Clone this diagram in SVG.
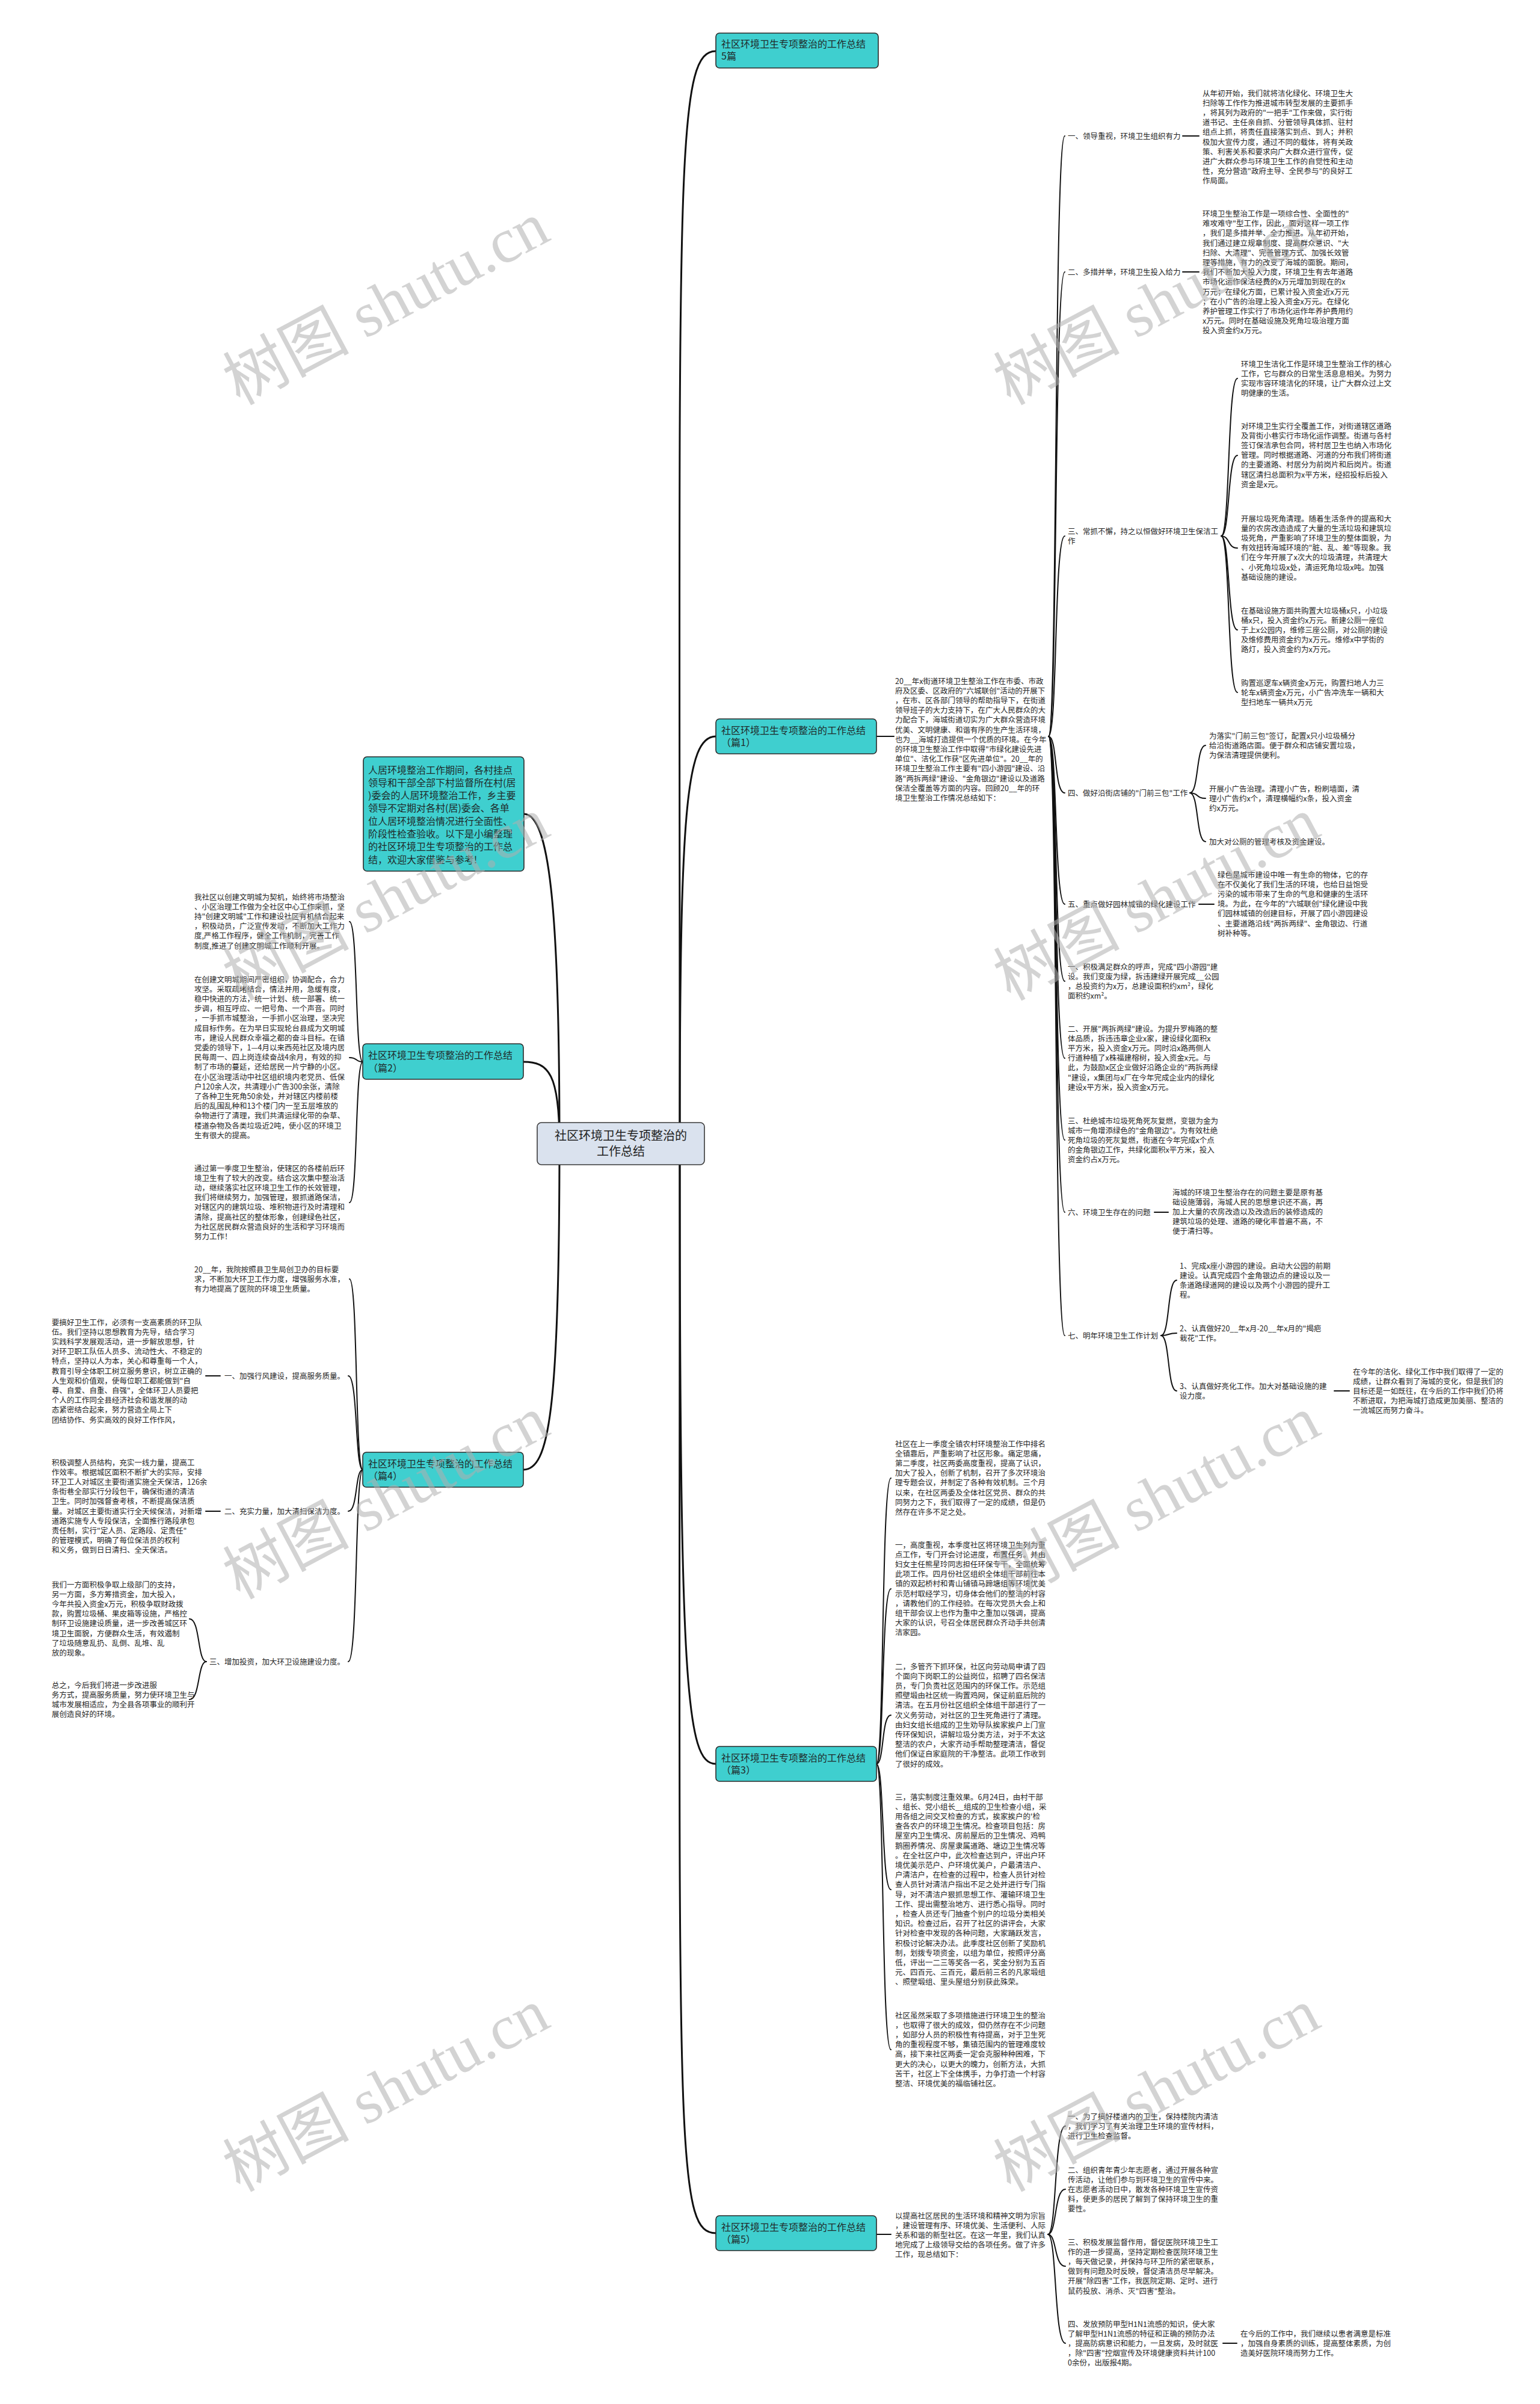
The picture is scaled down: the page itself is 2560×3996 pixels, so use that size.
<svg xmlns="http://www.w3.org/2000/svg" width="2560" height="3996" viewBox="0 0 2560 3996">
<style>
.t{font-family:"Noto Sans CJK SC","Noto Sans",sans-serif;font-size:12.5px;fill:#262626}
.n{font-family:"Noto Sans CJK SC","Noto Sans",sans-serif;font-size:16px;fill:#1f2a2a}
.cn{font-family:"Noto Sans CJK SC","Noto Sans",sans-serif;font-size:20px;fill:#222}
.box{fill:#3fcfcf;stroke:#2b2b2b;stroke-width:1.6}
.cbox{fill:#dae2ee;stroke:#3a3a3a;stroke-width:1.6}
.m{fill:none;stroke:#111;stroke-width:3;stroke-linecap:round}
.s{fill:none;stroke:#111;stroke-width:2;stroke-linecap:round}
.wm{font-family:"Liberation Serif","Noto Sans CJK SC",serif;font-size:105px;fill:#b0b0b0;opacity:0.55}
</style>
<rect x="0" y="0" width="2560" height="3996" fill="#ffffff"/>

<g id="connectors">
<path class="m" d="M1130,1900 C1130,300 1120,85 1190,85"/>
<path class="m" d="M1130,1900 C1130,1350 1140,1224 1190,1224"/>
<path class="m" d="M1130,1900 C1130,2800 1140,2932 1190,2932"/>
<path class="m" d="M1130,1900 C1130,3550 1120,3712 1190,3712"/>
<path class="m" d="M930,1900 C930,1500 912,1353 871,1353"/>
<path class="m" d="M930,1900 C930,1785 912,1765 870,1765"/>
<path class="m" d="M930,1900 C930,2350 912,2443 870,2443"/>
<!-- pian1 -->
<path class="s" d="M1457,1224 L1486,1224"/>
<path class="s" d="M1743,1224 C1758,1224 1752,226 1770,226"/>
<path class="s" d="M1743,1224 C1758,1224 1752,452 1770,452"/>
<path class="s" d="M1743,1224 C1758,1224 1752,891 1770,891"/>
<path class="s" d="M1743,1224 C1758,1224 1752,1318 1770,1318"/>
<path class="s" d="M1743,1224 C1758,1224 1752,1503 1770,1503"/>
<path class="s" d="M1743,1224 C1758,1224 1752,1631 1770,1631"/>
<path class="s" d="M1743,1224 C1758,1224 1752,1759 1770,1759"/>
<path class="s" d="M1743,1224 C1758,1224 1752,1895 1770,1895"/>
<path class="s" d="M1743,1224 C1758,1224 1752,2015 1770,2015"/>
<path class="s" d="M1743,1224 C1758,1224 1752,2220 1770,2220"/>
<path class="s" d="M1966,226 L1993,226"/>
<path class="s" d="M1966,452 L1993,452"/>
<path class="s" d="M2030,891 C2045,891 2040,629 2057,629"/>
<path class="s" d="M2030,891 C2045,891 2040,757 2057,757"/>
<path class="s" d="M2030,891 C2045,891 2040,911 2057,911"/>
<path class="s" d="M2030,891 C2045,891 2040,1047 2057,1047"/>
<path class="s" d="M2030,891 C2045,891 2040,1151 2057,1151"/>
<path class="s" d="M1978,1318 C1993,1318 1988,1239 2004,1239"/>
<path class="s" d="M1978,1318 C1993,1318 1988,1327 2004,1327"/>
<path class="s" d="M1978,1318 C1993,1318 1988,1399 2004,1399"/>
<path class="s" d="M1993,1503 L2018,1503"/>
<path class="s" d="M1919,2015 L1942,2015"/>
<path class="s" d="M1930,2220 C1945,2220 1940,2128 1956,2128"/>
<path class="s" d="M1930,2220 C1945,2220 1940,2216 1956,2216"/>
<path class="s" d="M1930,2220 C1945,2220 1940,2312 1956,2312"/>
<path class="s" d="M2218,2312 L2243,2312"/>
<!-- pian2 -->
<path class="s" d="M603,1765 C590,1765 595,1532 581,1532"/>
<path class="s" d="M603,1765 C590,1765 595,1758 581,1758"/>
<path class="s" d="M603,1765 C590,1765 595,1999 581,1999"/>
<!-- pian4 -->
<path class="s" d="M603,2443 C590,2443 595,2126 581,2126"/>
<path class="s" d="M603,2443 C590,2443 595,2287 579,2287"/>
<path class="s" d="M603,2443 C590,2443 595,2512 579,2512"/>
<path class="s" d="M603,2443 C590,2443 595,2762 579,2762"/>
<path class="s" d="M366,2287 L342,2287"/>
<path class="s" d="M366,2512 L342,2512"/>
<path class="s" d="M343,2762 C328,2762 333,2691 315,2691"/>
<path class="s" d="M343,2762 C328,2762 333,2825 315,2825"/>
<!-- pian3 -->
<path class="s" d="M1457,2932 C1470,2932 1465,2457 1481,2457"/>
<path class="s" d="M1457,2932 C1470,2932 1465,2641 1481,2641"/>
<path class="s" d="M1457,2932 C1470,2932 1465,2851 1481,2851"/>
<path class="s" d="M1457,2932 C1470,2932 1465,3141 1481,3141"/>
<path class="s" d="M1457,2932 C1470,2932 1465,3407 1481,3407"/>
<!-- pian5 -->
<path class="s" d="M1457,3714 L1481,3714"/>
<path class="s" d="M1742,3714 C1757,3714 1752,3534 1771,3534"/>
<path class="s" d="M1742,3714 C1757,3714 1752,3639 1771,3639"/>
<path class="s" d="M1742,3714 C1757,3714 1752,3767 1771,3767"/>
<path class="s" d="M1742,3714 C1757,3714 1752,3895 1771,3895"/>
<path class="s" d="M2033,3895 L2056,3895"/>
</g>

<g id="center">
<rect class="cbox" x="893" y="1866" width="278" height="70" rx="7"/>
<text class="cn" x="1032" y="1895" text-anchor="middle">社区环境卫生专项整治的</text>
<text class="cn" x="1032" y="1921" text-anchor="middle">工作总结</text>
</g>

<g id="title5">
<rect class="box" x="1190" y="55" width="270" height="58" rx="6"/>
<text class="n" x="1199" y="78.5">社区环境卫生专项整治的工作总结</text>
<text class="n" x="1199" y="98.5">5篇</text>
</g>

<g id="intro">
<rect class="box" x="604" y="1258" width="267" height="190" rx="6"/>
<text class="n" x="612" y="1285.5"><tspan x="612">人居环境整治工作期间，各村挂点</tspan><tspan x="612" dy="21.3">领导和干部全部下村监督所在村(居</tspan><tspan x="612" dy="21.3">)委会的人居环境整治工作，乡主要</tspan><tspan x="612" dy="21.3">领导不定期对各村(居)委会、各单</tspan><tspan x="612" dy="21.3">位人居环境整治情况进行全面性、</tspan><tspan x="612" dy="21.3">阶段性检查验收。以下是小编整理</tspan><tspan x="612" dy="21.3">的社区环境卫生专项整治的工作总</tspan><tspan x="612" dy="21.3">结，欢迎大家借鉴与参考!</tspan></text>
</g>

<g id="pian1">
<rect class="box" x="1190" y="1195" width="267" height="58" rx="6"/>
<text class="n" x="1199" y="1219.5">社区环境卫生专项整治的工作总结</text>
<text class="n" x="1199" y="1239.5">（篇1）</text>
</g>
<g id="p1-intro">
<text class="t" x="1488" y="1136.5"><tspan x="1488">20__年x街道环境卫生整治工作在市委、市政</tspan><tspan x="1488" dy="16.2">府及区委、区政府的"六城联创"活动的开展下</tspan><tspan x="1488" dy="16.2">，在市、区各部门领导的帮助指导下，在街道</tspan><tspan x="1488" dy="16.2">领导班子的大力支持下，在广大人民群众的大</tspan><tspan x="1488" dy="16.2">力配合下，海城街道切实为广大群众营造环境</tspan><tspan x="1488" dy="16.2">优美、文明健康、和谐有序的生产生活环境，</tspan><tspan x="1488" dy="16.2">也为__海城打造提供一个优质的环境。在今年</tspan><tspan x="1488" dy="16.2">的环境卫生整治工作中取得"市绿化建设先进</tspan><tspan x="1488" dy="16.2">单位"、洁化工作获"区先进单位"。20__年的</tspan><tspan x="1488" dy="16.2">环境卫生整治工作主要有"四小游园"建设、沿</tspan><tspan x="1488" dy="16.2">路"两拆两绿"建设、"金角银边"建设以及道路</tspan><tspan x="1488" dy="16.2">保洁全覆盖等方面的内容。回顾20__年的环</tspan><tspan x="1488" dy="16.2">境卫生整治工作情况总结如下：</tspan></text>
</g>
<g id="p1-1">
<text class="t" x="1775" y="230.5">一、领导重视，环境卫生组织有力</text>
<text class="t" x="1999" y="159.5"><tspan x="1999">从年初开始，我们就将洁化绿化、环境卫生大</tspan><tspan x="1999" dy="16.2">扫除等工作作为推进城市转型发展的主要抓手</tspan><tspan x="1999" dy="16.2">，将其列为政府的"一把手"工作来做，实行街</tspan><tspan x="1999" dy="16.2">道书记、主任亲自抓、分管领导具体抓、驻村</tspan><tspan x="1999" dy="16.2">组点上抓，将责任直接落实到点、到人；并积</tspan><tspan x="1999" dy="16.2">极加大宣传力度，通过不同的载体，将有关政</tspan><tspan x="1999" dy="16.2">策、利害关系和要求向广大群众进行宣传，促</tspan><tspan x="1999" dy="16.2">进广大群众参与环境卫生工作的自觉性和主动</tspan><tspan x="1999" dy="16.2">性，充分营造"政府主导、全民参与"的良好工</tspan><tspan x="1999" dy="16.2">作局面。</tspan></text>
</g>
<g id="p1-2">
<text class="t" x="1775" y="456.5">二、多措并举，环境卫生投入给力</text>
<text class="t" x="1999" y="360"><tspan x="1999">环境卫生整治工作是一项综合性、全面性的"</tspan><tspan x="1999" dy="16.2">难攻难守"型工作，因此，面对这样一项工作</tspan><tspan x="1999" dy="16.2">，我们是多措并举、全力推进。从年初开始，</tspan><tspan x="1999" dy="16.2">我们通过建立规章制度、提高群众意识、"大</tspan><tspan x="1999" dy="16.2">扫除、大清理"、完善管理方式、加强长效管</tspan><tspan x="1999" dy="16.2">理等措施，有力的改变了海城的面貌。期间，</tspan><tspan x="1999" dy="16.2">我们不断加大投入力度，环境卫生有去年道路</tspan><tspan x="1999" dy="16.2">市场化运作保洁经费的x万元增加到现在的x</tspan><tspan x="1999" dy="16.2">万元；在绿化方面，已累计投入资金近x万元</tspan><tspan x="1999" dy="16.2">；在小广告的治理上投入资金x万元。在绿化</tspan><tspan x="1999" dy="16.2">养护管理工作实行了市场化运作年养护费用约</tspan><tspan x="1999" dy="16.2">x万元。同时在基础设施及死角垃圾治理方面</tspan><tspan x="1999" dy="16.2">投入资金约x万元。</tspan></text>
</g>
<g id="p1-3">
<text class="t" x="1775" y="887.5"><tspan x="1775">三、常抓不懈，持之以恒做好环境卫生保洁工</tspan><tspan x="1775" dy="16.2">作</tspan></text>
<text class="t" x="2063" y="609.5"><tspan x="2063">环境卫生洁化工作是环境卫生整治工作的核心</tspan><tspan x="2063" dy="16.2">工作，它与群众的日常生活息息相关。为努力</tspan><tspan x="2063" dy="16.2">实现市容环境洁化的环境，让广大群众过上文</tspan><tspan x="2063" dy="16.2">明健康的生活。</tspan></text>
<text class="t" x="2063" y="712.5"><tspan x="2063">对环境卫生实行全覆盖工作，对街道辖区道路</tspan><tspan x="2063" dy="16.2">及背街小巷实行市场化运作调整。街道与各村</tspan><tspan x="2063" dy="16.2">签订保洁承包合同，将村居卫生也纳入市场化</tspan><tspan x="2063" dy="16.2">管理。同时根据道路、河道的分布我们将街道</tspan><tspan x="2063" dy="16.2">的主要道路、村居分为前岗片和后岗片。街道</tspan><tspan x="2063" dy="16.2">辖区清扫总面积为x平方米，经招投标后投入</tspan><tspan x="2063" dy="16.2">资金是x元。</tspan></text>
<text class="t" x="2063" y="866.5"><tspan x="2063">开展垃圾死角清理。随着生活条件的提高和大</tspan><tspan x="2063" dy="16.2">量的农房改造造成了大量的生活垃圾和建筑垃</tspan><tspan x="2063" dy="16.2">圾死角，严重影响了环境卫生的整体面貌，为</tspan><tspan x="2063" dy="16.2">有效扭转海城环境的"脏、乱、差"等现象。我</tspan><tspan x="2063" dy="16.2">们在今年开展了x次大的垃圾清理，共清理大</tspan><tspan x="2063" dy="16.2">、小死角垃圾x处，清运死角垃圾x吨。加强</tspan><tspan x="2063" dy="16.2">基础设施的建设。</tspan></text>
<text class="t" x="2063" y="1019.5"><tspan x="2063">在基础设施方面共购置大垃圾桶x只，小垃圾</tspan><tspan x="2063" dy="16.2">桶x只，投入资金约x万元。新建公厕一座位</tspan><tspan x="2063" dy="16.2">于上x公园内，维修三座公厕，对公厕的建设</tspan><tspan x="2063" dy="16.2">及维修费用资金约为x万元。维修x中学街的</tspan><tspan x="2063" dy="16.2">路灯，投入资金约为x万元。</tspan></text>
<text class="t" x="2063" y="1139.5"><tspan x="2063">购置巡逻车x辆资金x万元，购置扫地人力三</tspan><tspan x="2063" dy="16.2">轮车x辆资金x万元，小广告冲洗车一辆和大</tspan><tspan x="2063" dy="16.2">型扫地车一辆共x万元</tspan></text>
</g>
<g id="p1-4">
<text class="t" x="1775" y="1322.5">四、做好沿街店铺的"门前三包"工作</text>
<text class="t" x="2010" y="1227.5"><tspan x="2010">为落实"门前三包"签订，配置x只小垃圾桶分</tspan><tspan x="2010" dy="16.2">给沿街道路店面。便于群众和店铺安置垃圾，</tspan><tspan x="2010" dy="16.2">为保洁清理提供便利。</tspan></text>
<text class="t" x="2010" y="1315.5"><tspan x="2010">开展小广告治理。清理小广告，粉刷墙面，清</tspan><tspan x="2010" dy="16.2">理小广告约x个，清理横幅约x条，投入资金</tspan><tspan x="2010" dy="16.2">约x万元。</tspan></text>
<text class="t" x="2010" y="1403.5">加大对公厕的管理考核及资金建设。</text>
</g>
<g id="p1-5">
<text class="t" x="1775" y="1507.5">五、重点做好园林城镇的绿化建设工作</text>
<text class="t" x="2024" y="1458.5"><tspan x="2024">绿色是城市建设中唯一有生命的物体，它的存</tspan><tspan x="2024" dy="16.2">在不仅美化了我们生活的环境，也给日益饱受</tspan><tspan x="2024" dy="16.2">污染的城市带来了生命的气息和健康的生活环</tspan><tspan x="2024" dy="16.2">境。为此，在今年的"六城联创"绿化建设中我</tspan><tspan x="2024" dy="16.2">们园林城镇的创建目标，开展了四小游园建设</tspan><tspan x="2024" dy="16.2">、主要道路沿线"两拆两绿"、金角银边、行道</tspan><tspan x="2024" dy="16.2">树补种等。</tspan></text>
</g>
<g id="p1-5a">
<text class="t" x="1775" y="1611.5"><tspan x="1775">一、积极满足群众的呼声，完成"四小游园"建</tspan><tspan x="1775" dy="16.2">设。我们变废为绿，拆违建绿开展完成__公园</tspan><tspan x="1775" dy="16.2">，总投资约为x万，总建设面积约xm²，绿化</tspan><tspan x="1775" dy="16.2">面积约xm²。</tspan></text>
</g>
<g id="p1-5b">
<text class="t" x="1775" y="1714.5"><tspan x="1775">二、开展"两拆两绿"建设。为提升罗梅路的整</tspan><tspan x="1775" dy="16.2">体品质，拆违违章企业x家，建设绿化面积x</tspan><tspan x="1775" dy="16.2">平方米，投入资金x万元。同时沿x路两侧人</tspan><tspan x="1775" dy="16.2">行道种植了x株福建榕树，投入资金x元。与</tspan><tspan x="1775" dy="16.2">此，为鼓励x区企业做好沿路企业的"两拆两绿</tspan><tspan x="1775" dy="16.2">"建设，x集团与x厂在今年完成企业内的绿化</tspan><tspan x="1775" dy="16.2">建设x平方米，投入资金x万元。</tspan></text>
</g>
<g id="p1-5c">
<text class="t" x="1775" y="1867.5"><tspan x="1775">三、杜绝城市垃圾死角死灰复燃，变银为金为</tspan><tspan x="1775" dy="16.2">城市一角增添绿色的"金角银边"。为有效杜绝</tspan><tspan x="1775" dy="16.2">死角垃圾的死灰复燃，街道在今年完成x个点</tspan><tspan x="1775" dy="16.2">的金角银边工作，共绿化面积x平方米，投入</tspan><tspan x="1775" dy="16.2">资金约占x万元。</tspan></text>
</g>
<g id="p1-6">
<text class="t" x="1775" y="2019.5">六、环境卫生存在的问题</text>
<text class="t" x="1949" y="1986.5"><tspan x="1949">海城的环境卫生整治存在的问题主要是原有基</tspan><tspan x="1949" dy="16.2">础设施薄弱，海城人民的思想意识还不高，再</tspan><tspan x="1949" dy="16.2">加上大量的农房改造以及改造后的装修造成的</tspan><tspan x="1949" dy="16.2">建筑垃圾的处理、道路的硬化率普遍不高，不</tspan><tspan x="1949" dy="16.2">便于清扫等。</tspan></text>
</g>
<g id="p1-7">
<text class="t" x="1775" y="2224.5">七、明年环境卫生工作计划</text>
<text class="t" x="1961" y="2108.5"><tspan x="1961">1、完成x座小游园的建设。启动大公园的前期</tspan><tspan x="1961" dy="16.2">建设。认真完成四个金角银边点的建设以及一</tspan><tspan x="1961" dy="16.2">条道路绿道网的建设以及两个小游园的提升工</tspan><tspan x="1961" dy="16.2">程。</tspan></text>
<text class="t" x="1961" y="2212.5"><tspan x="1961">2、认真做好20__年x月-20__年x月的"揭疤</tspan><tspan x="1961" dy="16.2">栽花"工作。</tspan></text>
<text class="t" x="1961" y="2308.5"><tspan x="1961">3、认真做好亮化工作。加大对基础设施的建</tspan><tspan x="1961" dy="16.2">设力度。</tspan></text>
<text class="t" x="2249" y="2284.5"><tspan x="2249">在今年的洁化、绿化工作中我们取得了一定的</tspan><tspan x="2249" dy="16.2">成绩，让群众看到了海城的变化，但是我们的</tspan><tspan x="2249" dy="16.2">目标还是一如既往，在今后的工作中我们仍将</tspan><tspan x="2249" dy="16.2">不断进取，为把海城打造成更加美丽、整洁的</tspan><tspan x="2249" dy="16.2">一流城区而努力奋斗。</tspan></text>
</g>

<g id="pian2">
<rect class="box" x="603" y="1735" width="267" height="59" rx="6"/>
<text class="n" x="612" y="1759.5">社区环境卫生专项整治的工作总结</text>
<text class="n" x="612" y="1780.5">（篇2）</text>
</g>
<g id="p2-1">
<text class="t" x="323" y="1495.5"><tspan x="323">我社区以创建文明城为契机，始终将市场整治</tspan><tspan x="323" dy="16.2">、小区治理工作做为全社区中心工作来抓，坚</tspan><tspan x="323" dy="16.2">持"创建文明城"工作和建设社区有机结合起来</tspan><tspan x="323" dy="16.2">，积极动员，广泛宣传发动，不断加大工作力</tspan><tspan x="323" dy="16.2">度,严格工作程序，健全工作机制，完善工作</tspan><tspan x="323" dy="16.2">制度,推进了创建文明城工作顺利开展。</tspan></text>
</g>
<g id="p2-2">
<text class="t" x="323" y="1632.5"><tspan x="323">在创建文明城期间严密组织，协调配合，合力</tspan><tspan x="323" dy="16.2">攻坚。采取疏堵结合，情法并用，急缓有度，</tspan><tspan x="323" dy="16.2">稳中快进的方法，统一计划、统一部署、统一</tspan><tspan x="323" dy="16.2">步调，相互呼应、一把号角、一个声音。同时</tspan><tspan x="323" dy="16.2">，一手抓市城整治，一手抓小区治理，坚决完</tspan><tspan x="323" dy="16.2">成目标作务。在为早日实现轮台县成为文明城</tspan><tspan x="323" dy="16.2">市，建设人民群众幸福之都的奋斗目标。在镇</tspan><tspan x="323" dy="16.2">党委的领导下，1—4月以来西苑社区及境内居</tspan><tspan x="323" dy="16.2">民每周一、四上岗连续奋战4余月，有效的抑</tspan><tspan x="323" dy="16.2">制了市场的蔓延，还给居民一片宁静的小区。</tspan><tspan x="323" dy="16.2">在小区治理活动中社区组织境内老党员、低保</tspan><tspan x="323" dy="16.2">户120余人次，共清理小广告300余张，清除</tspan><tspan x="323" dy="16.2">了各种卫生死角50余处，并对辖区内楼前楼</tspan><tspan x="323" dy="16.2">后的乱围乱种和13个楼门内一至五层堆放的</tspan><tspan x="323" dy="16.2">杂物进行了清理，我们共清运绿化带的杂草、</tspan><tspan x="323" dy="16.2">楼道杂物及各类垃圾近2吨，使小区的环境卫</tspan><tspan x="323" dy="16.2">生有很大的提高。</tspan></text>
</g>
<g id="p2-3">
<text class="t" x="323" y="1946.5"><tspan x="323">通过第一季度卫生整治，使辖区的各楼前后环</tspan><tspan x="323" dy="16.2">境卫生有了较大的改变。结合这次集中整治活</tspan><tspan x="323" dy="16.2">动，继续落实社区环境卫生工作的长效管理，</tspan><tspan x="323" dy="16.2">我们将继续努力，加强管理，狠抓道路保洁，</tspan><tspan x="323" dy="16.2">对辖区内的建筑垃圾、堆积物进行及时清理和</tspan><tspan x="323" dy="16.2">清除，提高社区的整体形象，创建绿色社区，</tspan><tspan x="323" dy="16.2">为社区居民群众营造良好的生活和学习环境而</tspan><tspan x="323" dy="16.2">努力工作！</tspan></text>
</g>

<g id="pian4">
<rect class="box" x="603" y="2414" width="267" height="58" rx="6"/>
<text class="n" x="612" y="2438.5">社区环境卫生专项整治的工作总结</text>
<text class="n" x="612" y="2458.5">（篇4）</text>
</g>
<g id="p4-0">
<text class="t" x="323" y="2114.5"><tspan x="323">20__年，我院按照县卫生局创卫办的目标要</tspan><tspan x="323" dy="16.2">求，不断加大环卫工作力度，增强服务水准，</tspan><tspan x="323" dy="16.2">有力地提高了医院的环境卫生质量。</tspan></text>
</g>
<g id="p4-1">
<text class="t" x="373" y="2291.5">一、加强行风建设，提高服务质量。</text>
<text class="t" x="86" y="2202.5"><tspan x="86">要搞好卫生工作，必须有一支高素质的环卫队</tspan><tspan x="86" dy="16.2">伍。我们坚持以思想教育为先导，结合学习</tspan><tspan x="86" dy="16.2">实践科学发展观活动，进一步解放思想，针</tspan><tspan x="86" dy="16.2">对环卫职工队伍人员多、流动性大、不稳定的</tspan><tspan x="86" dy="16.2">特点，坚持以人为本，关心和尊重每一个人，</tspan><tspan x="86" dy="16.2">教育引导全体职工树立服务意识，树立正确的</tspan><tspan x="86" dy="16.2">人生观和价值观，使每位职工都能做到"自</tspan><tspan x="86" dy="16.2">尊、自爱、自重、自强"，全体环卫人员要把</tspan><tspan x="86" dy="16.2">个人的工作同全县经济社会和谐发展的动</tspan><tspan x="86" dy="16.2">态紧密结合起来，努力营造全局上下</tspan><tspan x="86" dy="16.2">团结协作、务实高效的良好工作作风，</tspan></text>
</g>
<g id="p4-2">
<text class="t" x="373" y="2516.5">二、充实力量，加大清扫保洁力度。</text>
<text class="t" x="86" y="2435.5"><tspan x="86">积极调整人员结构，充实一线力量，提高工</tspan><tspan x="86" dy="16.2">作效率。根据城区面积不断扩大的实际，安排</tspan><tspan x="86" dy="16.2">环卫工人对城区主要街道实施全天保洁，126余</tspan><tspan x="86" dy="16.2">条街巷全部实行分段包干，确保街道的清洁</tspan><tspan x="86" dy="16.2">卫生。同时加强督查考核，不断提高保洁质</tspan><tspan x="86" dy="16.2">量。对城区主要街道实行全天候保洁，对新增</tspan><tspan x="86" dy="16.2">道路实施专人专段保洁，全面推行路段承包</tspan><tspan x="86" dy="16.2">责任制，实行"定人员、定路段、定责任"</tspan><tspan x="86" dy="16.2">的管理模式，明确了每位保洁员的权利</tspan><tspan x="86" dy="16.2">和义务，做到日日清扫、全天保洁。</tspan></text>
</g>
<g id="p4-3">
<text class="t" x="348" y="2766.5">三、增加投资，加大环卫设施建设力度。</text>
<text class="t" x="86" y="2638.5"><tspan x="86">我们一方面积极争取上级部门的支持，</tspan><tspan x="86" dy="16.2">另一方面，多方筹措资金，加大投入，</tspan><tspan x="86" dy="16.2">今年共投入资金x万元，积极争取财政拨</tspan><tspan x="86" dy="16.2">款，购置垃圾桶、果皮箱等设施，严格控</tspan><tspan x="86" dy="16.2">制环卫设施建设质量，进一步改善城区环</tspan><tspan x="86" dy="16.2">境卫生面貌，方便群众生活，有效遏制</tspan><tspan x="86" dy="16.2">了垃圾随意乱扔、乱倒、乱堆、乱</tspan><tspan x="86" dy="16.2">放的现象。</tspan></text>
<text class="t" x="86" y="2805.5"><tspan x="86">总之，今后我们将进一步改进服</tspan><tspan x="86" dy="16.2">务方式，提高服务质量，努力使环境卫生与</tspan><tspan x="86" dy="16.2">城市发展相适应，为全县各项事业的顺利开</tspan><tspan x="86" dy="16.2">展创造良好的环境。</tspan></text>
</g>

<g id="pian3">
<rect class="box" x="1190" y="2903" width="267" height="58" rx="6"/>
<text class="n" x="1199" y="2927.5">社区环境卫生专项整治的工作总结</text>
<text class="n" x="1199" y="2947.5">（篇3）</text>
</g>
<g id="p3-0">
<text class="t" x="1488" y="2404.5"><tspan x="1488">社区在上一季度全镇农村环境整治工作中排名</tspan><tspan x="1488" dy="16.2">全镇靠后，严重影响了社区形象。痛定思痛，</tspan><tspan x="1488" dy="16.2">第二季度，社区两委高度重视，提高了认识，</tspan><tspan x="1488" dy="16.2">加大了投入，创新了机制，召开了多次环境治</tspan><tspan x="1488" dy="16.2">理专题会议，并制定了各种有效机制。三个月</tspan><tspan x="1488" dy="16.2">以来，在社区两委及全体社区党员、群众的共</tspan><tspan x="1488" dy="16.2">同努力之下，我们取得了一定的成绩，但是仍</tspan><tspan x="1488" dy="16.2">然存在许多不足之处。</tspan></text>
</g>
<g id="p3-1">
<text class="t" x="1488" y="2572.5"><tspan x="1488">一，高度重视，本季度社区将环境卫生列为重</tspan><tspan x="1488" dy="16.2">点工作，专门开会讨论进度，布置任务。并由</tspan><tspan x="1488" dy="16.2">妇女主任熊星玲同志担任环保专干，全面统筹</tspan><tspan x="1488" dy="16.2">此项工作。四月份社区组织全体组干部前往本</tspan><tspan x="1488" dy="16.2">镇的双起桥村和青山铺镇马蹄塘组等环境优美</tspan><tspan x="1488" dy="16.2">示范村取经学习，切身体会他们的整洁的村容</tspan><tspan x="1488" dy="16.2">，请教他们的工作经验。在每次党员大会上和</tspan><tspan x="1488" dy="16.2">组干部会议上也作为重中之重加以强调，提高</tspan><tspan x="1488" dy="16.2">大家的认识，号召全体居民群众齐动手共创清</tspan><tspan x="1488" dy="16.2">洁家园。</tspan></text>
</g>
<g id="p3-2">
<text class="t" x="1488" y="2774.5"><tspan x="1488">二，多管齐下抓环保，社区向劳动局申请了四</tspan><tspan x="1488" dy="16.2">个面向下岗职工的公益岗位，招聘了四名保洁</tspan><tspan x="1488" dy="16.2">员，专门负责社区范围内的环保工作。示范组</tspan><tspan x="1488" dy="16.2">照壁塅由社区统一购置鸡网，保证前庭后院的</tspan><tspan x="1488" dy="16.2">清洁。在五月份社区组织全体组干部进行了一</tspan><tspan x="1488" dy="16.2">次义务劳动，对社区的卫生死角进行了清理。</tspan><tspan x="1488" dy="16.2">由妇女组长组成的卫生劝导队挨家挨户上门宣</tspan><tspan x="1488" dy="16.2">传环保知识，讲解垃圾分类方法，对于不太这</tspan><tspan x="1488" dy="16.2">整洁的农户，大家齐动手帮助整理清洁，督促</tspan><tspan x="1488" dy="16.2">他们保证自家庭院的干净整洁。此项工作收到</tspan><tspan x="1488" dy="16.2">了很好的成效。</tspan></text>
</g>
<g id="p3-3">
<text class="t" x="1488" y="2991.5"><tspan x="1488">三，落实制度注重效果。6月24日，由村干部</tspan><tspan x="1488" dy="16.2">、组长、党小组长__组成的卫生检查小组，采</tspan><tspan x="1488" dy="16.2">用各组之间交叉检查的方式，挨家挨户的'检</tspan><tspan x="1488" dy="16.2">查各农户的环境卫生情况。检查项目包括：房</tspan><tspan x="1488" dy="16.2">屋室内卫生情况、房前屋后的卫生情况、鸡鸭</tspan><tspan x="1488" dy="16.2">鹅圈养情况、房屋隶属道路、塘边卫生情况等</tspan><tspan x="1488" dy="16.2">。在全社区户中，此次检查达到户，评出户环</tspan><tspan x="1488" dy="16.2">境优美示范户、户环境优美户，户最清洁户、</tspan><tspan x="1488" dy="16.2">户清洁户，在检查的过程中，检查人员针对检</tspan><tspan x="1488" dy="16.2">查人员针对清洁户指出不足之处并进行专门指</tspan><tspan x="1488" dy="16.2">导，对不清洁户狠抓思想工作、灌输环境卫生</tspan><tspan x="1488" dy="16.2">工作、提出需整治地方、进行悉心指导。同时</tspan><tspan x="1488" dy="16.2">，检查人员还专门抽查个别户的垃圾分类相关</tspan><tspan x="1488" dy="16.2">知识。检查过后，召开了社区的讲评会，大家</tspan><tspan x="1488" dy="16.2">针对检查中发现的各种问题，大家踊跃发言，</tspan><tspan x="1488" dy="16.2">积极讨论解决办法。此季度社区创新了奖励机</tspan><tspan x="1488" dy="16.2">制，划拨专项资金，以组为单位，按照评分高</tspan><tspan x="1488" dy="16.2">低，评出一二三等奖各一名，奖金分别为五百</tspan><tspan x="1488" dy="16.2">元、四百元、三百元，最后前三名的凡家塅组</tspan><tspan x="1488" dy="16.2">、照壁塅组、里头屋组分别获此殊荣。</tspan></text>
</g>
<g id="p3-4">
<text class="t" x="1488" y="3354.5"><tspan x="1488">社区虽然采取了多项措施进行环境卫生的整治</tspan><tspan x="1488" dy="16.2">，也取得了很大的成效，但仍然存在不少问题</tspan><tspan x="1488" dy="16.2">，如部分人员的积极性有待提高，对于卫生死</tspan><tspan x="1488" dy="16.2">角的重视程度不够，集镇范围内的管理难度较</tspan><tspan x="1488" dy="16.2">高，接下来社区两委一定会克服种种困难，下</tspan><tspan x="1488" dy="16.2">更大的决心，以更大的魄力，创新方法，大抓</tspan><tspan x="1488" dy="16.2">苦干，社区上下全体携手，力争打造一个村容</tspan><tspan x="1488" dy="16.2">整洁、环境优美的福临铺社区。</tspan></text>
</g>

<g id="pian5">
<rect class="box" x="1190" y="3683" width="267" height="58" rx="6"/>
<text class="n" x="1199" y="3707.5">社区环境卫生专项整治的工作总结</text>
<text class="n" x="1199" y="3727.5">（篇5）</text>
</g>
<g id="p5-0">
<text class="t" x="1488" y="3687.5"><tspan x="1488">以提高社区居民的生活环境和精神文明为宗旨</tspan><tspan x="1488" dy="16.2">，建设管理有序、环境优美、生活便利、人际</tspan><tspan x="1488" dy="16.2">关系和谐的新型社区。在这一年里，我们认真</tspan><tspan x="1488" dy="16.2">地完成了上级领导交给的各项任务。做了许多</tspan><tspan x="1488" dy="16.2">工作，现总结如下：</tspan></text>
</g>
<g id="p5-1">
<text class="t" x="1775" y="3522.5"><tspan x="1775">一、为了搞好楼道内的卫生，保持楼院内清洁</tspan><tspan x="1775" dy="16.2">，我们学习了有关治理卫生环境的宣传材料，</tspan><tspan x="1775" dy="16.2">进行卫生检查监督。</tspan></text>
</g>
<g id="p5-2">
<text class="t" x="1775" y="3611.5"><tspan x="1775">二、组织青年青少年志愿者，通过开展各种宣</tspan><tspan x="1775" dy="16.2">传活动，让他们参与到环境卫生的宣传中来。</tspan><tspan x="1775" dy="16.2">在志愿者活动日中，散发各种环境卫生宣传资</tspan><tspan x="1775" dy="16.2">料，使更多的居民了解到了保持环境卫生的重</tspan><tspan x="1775" dy="16.2">要性。</tspan></text>
</g>
<g id="p5-3">
<text class="t" x="1775" y="3731.5"><tspan x="1775">三、积极发展监督作用，督促医院环境卫生工</tspan><tspan x="1775" dy="16.2">作的进一步提高，坚持定期检查医院环境卫生</tspan><tspan x="1775" dy="16.2">，每天做记录，并保持与环卫所的紧密联系，</tspan><tspan x="1775" dy="16.2">做到有问题及时反映，督促清洁员尽早解决。</tspan><tspan x="1775" dy="16.2">开展"除四害"工作，我医院定期、定时、进行</tspan><tspan x="1775" dy="16.2">鼠药投放、消杀、灭"四害"整治。</tspan></text>
</g>
<g id="p5-4">
<text class="t" x="1775" y="3867.5"><tspan x="1775">四、发放预防甲型H1N1流感的知识，使大家</tspan><tspan x="1775" dy="16.2">了解甲型H1N1流感的特征和正确的预防办法</tspan><tspan x="1775" dy="16.2">，提高防病意识和能力，一旦发病，及时就医</tspan><tspan x="1775" dy="16.2">，除"四害"控烟宣传及环境健康资料共计100</tspan><tspan x="1775" dy="16.2">0余份，出版报4期。</tspan></text>
<text class="t" x="2062" y="3883.5"><tspan x="2062">在今后的工作中，我们继续以患者满意是标准</tspan><tspan x="2062" dy="16.2">，加强自身素质的训练，提高整体素质，为创</tspan><tspan x="2062" dy="16.2">造美好医院环境而努力工作。</tspan></text>
</g>

<g id="watermark">
<text class="wm" x="642" y="540" text-anchor="middle" transform="rotate(-28 642 505)">树图 shutu.cn</text>
<text class="wm" x="1923" y="540" text-anchor="middle" transform="rotate(-28 1923 505)">树图 shutu.cn</text>
<text class="wm" x="642" y="1530" text-anchor="middle" transform="rotate(-28 642 1495)">树图 shutu.cn</text>
<text class="wm" x="1923" y="1530" text-anchor="middle" transform="rotate(-28 1923 1495)">树图 shutu.cn</text>
<text class="wm" x="642" y="2525" text-anchor="middle" transform="rotate(-28 642 2490)">树图 shutu.cn</text>
<text class="wm" x="1923" y="2525" text-anchor="middle" transform="rotate(-28 1923 2490)">树图 shutu.cn</text>
<text class="wm" x="642" y="3510" text-anchor="middle" transform="rotate(-28 642 3475)">树图 shutu.cn</text>
<text class="wm" x="1923" y="3510" text-anchor="middle" transform="rotate(-28 1923 3475)">树图 shutu.cn</text>
</g>
</svg>
